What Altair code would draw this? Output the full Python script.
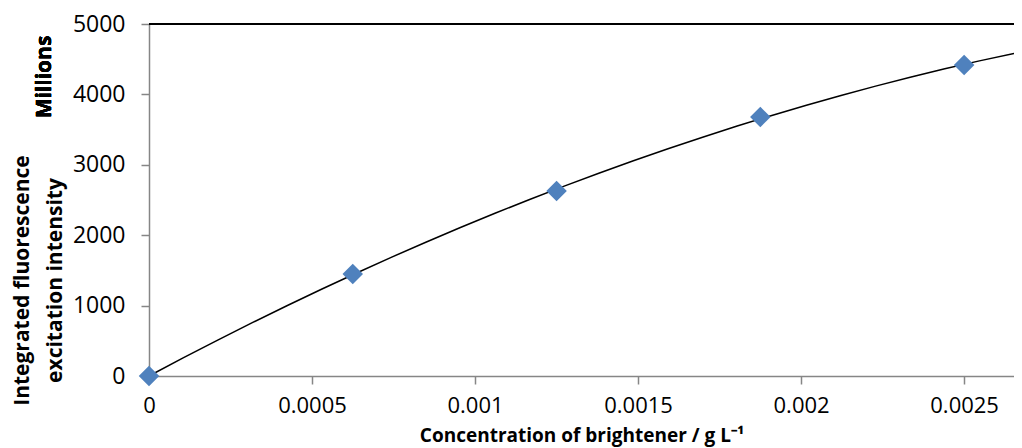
import altair as alt
import pandas as pd

conc = [0.0, 0.000625, 0.00125, 0.001875, 0.0025]
intensity = [0, 1449, 2628, 3679, 4418]
x_ticks = [0, 0.0005, 0.001, 0.0015, 0.002, 0.0025]
y_ticks = [0, 1000, 2000, 3000, 4000, 5000]
x_max = 0.002653
y_max = 5000

df = pd.DataFrame({"conc": conc, "intensity": intensity})

FONT = "Open Sans"
GREY = "#868686"

x_enc = alt.X(
    "conc:Q",
    scale=alt.Scale(domain=[0, x_max], nice=False, zero=False),
    axis=alt.Axis(
        values=x_ticks, format="~g", grid=False, title="Concentration of brightener / g L\u207b\u00b9",
        domainColor=GREY, domainWidth=1.5, tickColor=GREY, tickWidth=1.5, tickSize=8,
        labelFont=FONT, labelFontSize=22, labelColor="black", labelPadding=11,
        labelFlush=False, titleFont=FONT, titleFontSize=19, titleFontWeight="bold",
        titleColor="black", titleBaseline="middle", titleY=59,
    ),
)
y_enc = alt.Y(
    "intensity:Q",
    scale=alt.Scale(domain=[0, y_max], nice=False),
    axis=alt.Axis(
        values=y_ticks, format="d", grid=False,
        title=["Integrated fluorescence", "excitation intensity"],
        domainColor=GREY, domainWidth=1.5, tickColor=GREY, tickWidth=1.5, tickSize=8,
        labelFont=FONT, labelFontSize=23, labelColor="black", labelPadding=16,
        titleFont=FONT, titleFontSize=21, titleFontWeight="bold", titleColor="black",
        titleX=-127, titleY=256, titleAngle=-90, titleBaseline="middle",
        titleAlign="center", titleLineHeight=33,
    ),
)

points = alt.Chart(df).mark_point(
    shape="diamond", filled=True, size=420, color="#4F81BD", opacity=1
).encode(x=x_enc, y=y_enc)

fit = alt.Chart(df).transform_regression(
    "conc", "intensity", method="poly", order=2, extent=[0, x_max]
).mark_line(color="black", strokeWidth=1.5).encode(x=x_enc, y=y_enc)

top = alt.Chart(df).mark_rule(color="black", strokeWidth=1.5).encode(y=alt.datum(y_max))

millions = alt.Chart(df).mark_text(
    text="Millions", angle=270, font=FONT, fontSize=21, fontWeight="bold",
    align="center", baseline="middle", color="black",
).encode(x=alt.value(-104), y=alt.value(53))

chart = alt.layer(fit, points, top, millions).properties(
    width=865, height=352,
    padding={"left": 141, "top": 16, "right": 0, "bottom": 72},
    autosize=alt.AutoSizeParams(type="none"),
).configure_view(stroke=None)

chart.save("out.html", embed_options={"renderer": "svg", "actions": False})
